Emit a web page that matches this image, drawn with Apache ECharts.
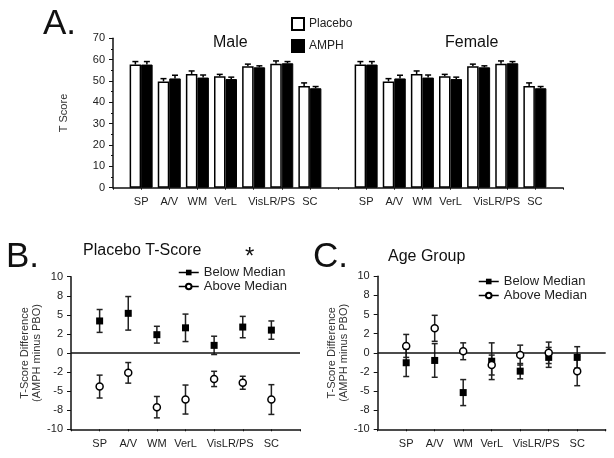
<!DOCTYPE html>
<html>
<head>
<meta charset="utf-8">
<script src="https://cdn.jsdelivr.net/npm/echarts@6/dist/echarts.min.js"></script>
<style>html,body{margin:0;padding:0;background:#fff}#c{width:614px;height:458px}</style>
</head>
<body>
<div id="c"></div>
<script>
// ---- data ----
const categories = ['SP', 'A/V', 'WM', 'VerL', 'VisLR', 'PS', 'SC'];
const malePlacebo = [57.7, 49.8, 53.3, 52.2, 56.9, 58.1, 47.7];
const maleAmph = [57.7, 51.2, 51.6, 50.9, 56.4, 58.3, 46.6];
const malePlaceboErr = [1.4, 1.3, 1.4, 0.9, 1.0, 1.3, 1.4];
const maleAmphErr = [1.4, 1.5, 1.2, 0.9, 0.7, 0.8, 0.8];
const femalePlacebo = [57.7, 49.8, 53.3, 52.2, 56.9, 58.1, 47.7];
const femaleAmph = [57.7, 51.2, 51.6, 50.9, 56.4, 58.3, 46.6];
const femalePlaceboErr = [1.4, 1.3, 1.4, 0.9, 1.0, 1.3, 1.4];
const femaleAmphErr = [1.4, 1.5, 1.2, 0.9, 0.7, 0.8, 0.8];

const placeboBelow = [4.2, 5.2, 2.4, 3.3, 1.0, 3.4, 3.0];
const placeboBelowErr = [1.5, 2.2, 1.1, 1.8, 1.2, 1.4, 1.2];
const placeboAbove = [-4.4, -2.6, -7.1, -6.1, -3.4, -3.9, -6.1];
const placeboAboveErr = [1.5, 1.35, 1.4, 1.9, 1.0, 0.85, 1.95];

const ageBelow = [-1.3, -1.0, -5.2, -1.1, -2.4, -0.6, -0.6];
const ageBelowErr = [1.8, 2.2, 1.7, 2.4, 1.0, 1.3, 1.4];
const ageAbove = [0.9, 3.2, 0.2, -1.6, -0.3, 0.0, -2.4];
const ageAboveErr = [1.5, 1.7, 1.1, 1.3, 1.3, 1.4, 1.9];

const tScoreTicks = [0, 10, 20, 30, 40, 50, 60, 70];
const diffTickLabels = ['-10', '-8', '-5', '-2', '0', '2', '5', '8', '10'];

// ---- helpers ----
const FONT = "'Liberation Sans', Arial, sans-serif";
const BAR_W = 11.5;
const n = categories.length;
// panel A axis: blank, male cats, blank, female cats, blank
const xA = ['a0'].concat(categories.map(c => 'm' + c), ['a8'], categories.map(c => 'f' + c), ['a16']);
const xBC = ['b0'].concat(categories.map(c => 'c' + c), ['b8']);
const padA = (m, f) => ['-'].concat(m, ['-'], f, ['-']);
const padBC = (arr) => ['-'].concat(arr, ['-']);

function catLabel(shift) {
  return function (v) {
    const c = v.slice(1);
    if (!categories.includes(c) || v.length < 2) return '';
    if (c === 'VisLR') return '{s|VisLR/PS}';
    if (c === 'PS') return '';
    return c;
  };
}

function barErrData() {
  const d = [];
  for (let i = 0; i < n; i++) {
    d.push([i + 1, malePlacebo[i], malePlaceboErr[i], -1]);
    d.push([i + 1, maleAmph[i], maleAmphErr[i], 1]);
    d.push([i + 9, femalePlacebo[i], femalePlaceboErr[i], -1]);
    d.push([i + 9, femaleAmph[i], femaleAmphErr[i], 1]);
  }
  return d;
}
function renderBarErr(params, api) {
  const x = api.value(0), y = api.value(1), e = api.value(2), side = api.value(3);
  const p0 = api.coord([x, y]);
  const p1 = api.coord([x, y + e]);
  const cx = p0[0] + side * BAR_W / 2;
  const st = { stroke: '#000', lineWidth: 1.5 };
  return { type: 'group', children: [
    { type: 'line', shape: { x1: cx, y1: p0[1], x2: cx, y2: p1[1] }, style: st },
    { type: 'line', shape: { x1: cx - 3, y1: p1[1], x2: cx + 3, y2: p1[1] }, style: st }
  ]};
}
function errData(vals, errs) {
  return vals.map((v, i) => [i + 1, v, errs[i]]);
}
function renderErr(params, api) {
  const x = api.value(0), y = api.value(1), e = api.value(2);
  const pt = api.coord([x, y + e]);
  const pb = api.coord([x, y - e]);
  const st = { stroke: '#222', lineWidth: 1.5 };
  return { type: 'group', children: [
    { type: 'line', shape: { x1: pt[0], y1: pt[1], x2: pb[0], y2: pb[1] }, style: st },
    { type: 'line', shape: { x1: pt[0] - 3, y1: pt[1], x2: pt[0] + 3, y2: pt[1] }, style: st },
    { type: 'line', shape: { x1: pb[0] - 3, y1: pb[1], x2: pb[0] + 3, y2: pb[1] }, style: st }
  ]};
}

const axisLineStyle = { lineStyle: { color: '#111', width: 1.5 } };
const labelStyle = { fontFamily: FONT, fontSize: 11, color: '#222' };

function diffYAxis(gridIndex) {
  return {
    type: 'value', gridIndex: gridIndex, min: -10, max: 10, interval: 2.5,
    name: 'T-Score Difference\n(AMPH minus PBO)', nameLocation: 'middle', nameGap: 28,
    nameTextStyle: { fontFamily: FONT, fontSize: 11, color: '#333', lineHeight: 12 },
    axisLine: Object.assign({ show: true }, axisLineStyle),
    axisTick: { show: true, length: 4, lineStyle: { color: '#111' } },
    splitLine: { show: false },
    axisLabel: Object.assign({}, labelStyle, { margin: 8,
      formatter: v => diffTickLabels[Math.round((v + 10) / 2.5)] })
  };
}
function catXAxis(gridIndex, data, shift) {
  return {
    type: 'category', gridIndex: gridIndex, data: data, boundaryGap: false,
    axisLine: Object.assign({ show: true, onZero: false }, axisLineStyle),
    axisTick: { show: true, length: 2, lineStyle: { color: '#111' } },
    axisLabel: Object.assign({}, labelStyle, { interval: 0, margin: 9, hideOverlap: false,
      formatter: catLabel(), rich: { s: Object.assign({}, labelStyle, { padding: [0, 0, 0, shift] }) } }),
    splitLine: { show: false }
  };
}
function pointSeries(name, data, xi, yi, filled) {
  return {
    type: 'line', name: name, xAxisIndex: xi, yAxisIndex: yi, data: padBC(data),
    symbol: filled ? 'rect' : 'circle', symbolSize: filled ? 7 : 7, showAllSymbol: true,
    lineStyle: { opacity: 0, width: 0 }, color: '#000',
    itemStyle: filled ? { color: '#000' } : { color: '#fff', borderColor: '#000', borderWidth: 1.5 },
    z: 5, silent: true
  };
}
function zeroLine(xi, yi) {
  return {
    type: 'line', xAxisIndex: xi, yAxisIndex: yi, data: [], silent: true,
    markLine: { silent: true, symbol: ['none', 'none'], label: { show: false },
      lineStyle: { color: '#111', width: 1.5, type: 'solid' }, data: [{ yAxis: 0 }] }
  };
}
const titleStyle = (size) => ({ fontFamily: FONT, fontSize: size, fontWeight: 'normal', color: '#111' });
function legendBC(left, top) {
  return {
    left: left, top: top, orient: 'vertical', itemGap: 1, itemWidth: 20, itemHeight: 7,
    data: ['Below Median', 'Above Median'],
    textStyle: { fontFamily: FONT, fontSize: 13, color: '#222' },
    lineStyle: { width: 1.5, color: '#000', opacity: 1 },
    selectedMode: false
  };
}

const option = {
  animation: false,
  backgroundColor: '#fff',
  title: [
    { text: 'A.', left: 38, top: 2, textStyle: titleStyle(35) },
    { text: 'Male', left: 208, top: 30, textStyle: titleStyle(16) },
    { text: 'Female', left: 440, top: 30, textStyle: titleStyle(16) },
    { text: 'B.', left: 1, top: 235, textStyle: titleStyle(35) },
    { text: 'Placebo T-Score', left: 78, top: 238, textStyle: titleStyle(16) },
    { text: '*', left: 240, top: 240, textStyle: titleStyle(24) },
    { text: 'C.', left: 308, top: 235, textStyle: titleStyle(35) },
    { text: 'Age Group', left: 383, top: 244, textStyle: titleStyle(16) }
  ],
  legend: [
    { left: 286, top: 12, orient: 'vertical', itemGap: 8, itemWidth: 12, itemHeight: 12, icon: 'rect',
      data: ['Placebo', 'AMPH'], selectedMode: false,
      textStyle: { fontFamily: FONT, fontSize: 12, color: '#222' } },
    legendBC(173, 261),
    legendBC(473, 270)
  ],
  grid: [
    { left: 113, top: 38.3, width: 450, height: 149.4 },
    { left: 71, top: 276.7, width: 229, height: 152.6 },
    { left: 377.7, top: 276.3, width: 228, height: 153 }
  ],
  xAxis: [
    catXAxis(0, xA, 36),
    catXAxis(1, xBC, 32),
    catXAxis(2, xBC, 32)
  ],
  yAxis: [
    { type: 'value', gridIndex: 0, min: tScoreTicks[0], max: tScoreTicks[tScoreTicks.length - 1], interval: 10,
      name: 'T Score', nameLocation: 'middle', nameGap: 44,
      nameTextStyle: { fontFamily: FONT, fontSize: 11, color: '#333' },
      axisLine: Object.assign({ show: true }, axisLineStyle),
      axisTick: { show: true, length: 4, lineStyle: { color: '#111' } },
      minorTick: { show: true, splitNumber: 2, length: 2, lineStyle: { color: '#111' } },
      splitLine: { show: false },
      axisLabel: Object.assign({}, labelStyle, { margin: 8 }) },
    diffYAxis(1),
    diffYAxis(2)
  ],
  series: [
    { type: 'bar', name: 'Placebo', xAxisIndex: 0, yAxisIndex: 0, data: padA(malePlacebo, femalePlacebo),
      barWidth: BAR_W, barGap: '0%', itemStyle: { color: '#fff', borderColor: '#000', borderWidth: 1.5 }, silent: true },
    { type: 'bar', name: 'AMPH', xAxisIndex: 0, yAxisIndex: 0, data: padA(maleAmph, femaleAmph),
      barWidth: BAR_W, barGap: '0%', itemStyle: { color: '#000', borderColor: '#000', borderWidth: 1 }, silent: true },
    { type: 'custom', xAxisIndex: 0, yAxisIndex: 0, data: barErrData(), renderItem: renderBarErr, z: 3, silent: true },

    zeroLine(1, 1),
    { type: 'custom', xAxisIndex: 1, yAxisIndex: 1, data: errData(placeboBelow, placeboBelowErr), renderItem: renderErr, z: 3, silent: true },
    { type: 'custom', xAxisIndex: 1, yAxisIndex: 1, data: errData(placeboAbove, placeboAboveErr), renderItem: renderErr, z: 3, silent: true },
    pointSeries('Below Median', placeboBelow, 1, 1, true),
    pointSeries('Above Median', placeboAbove, 1, 1, false),

    zeroLine(2, 2),
    { type: 'custom', xAxisIndex: 2, yAxisIndex: 2, data: errData(ageBelow, ageBelowErr), renderItem: renderErr, z: 3, silent: true },
    { type: 'custom', xAxisIndex: 2, yAxisIndex: 2, data: errData(ageAbove, ageAboveErr), renderItem: renderErr, z: 3, silent: true },
    pointSeries('Below Median', ageBelow, 2, 2, true),
    pointSeries('Above Median', ageAbove, 2, 2, false)
  ]
};

const chart = echarts.init(document.getElementById('c'), null, { renderer: 'canvas' });
chart.setOption(option);
</script>
</body>
</html>
